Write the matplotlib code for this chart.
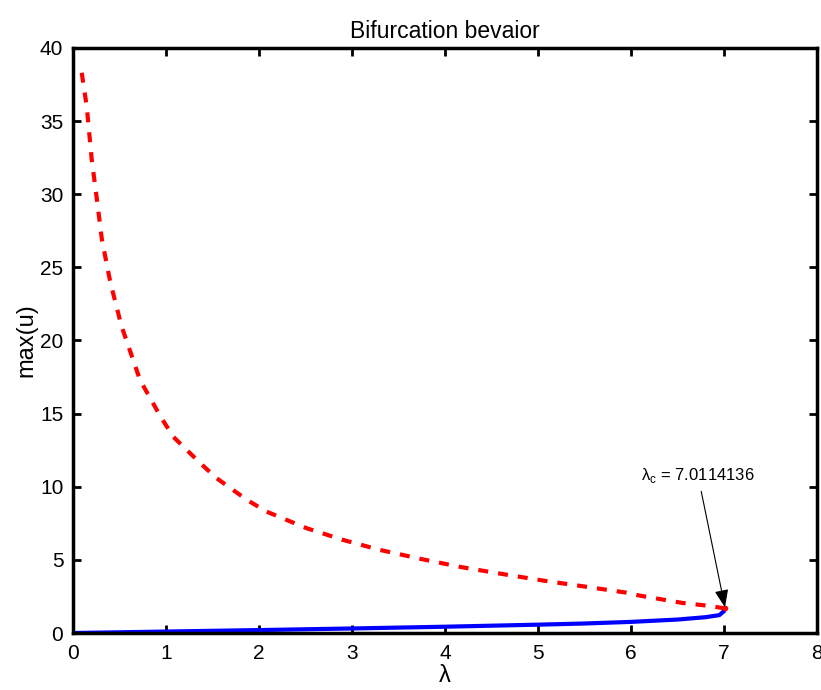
import numpy as np
import matplotlib
matplotlib.use("Agg")
import matplotlib.pyplot as plt

plt.rcParams['font.family'] = ['Liberation Sans', 'DejaVu Sans']

# upper branch (unstable)
lam_upper = [0.093, 0.147, 0.2, 0.255, 0.31, 0.4, 0.52, 0.72, 0.94, 1.08, 1.37, 1.54,
             1.87, 2.08, 2.51, 2.9, 3.3, 3.75, 4.18, 4.63, 5.06, 5.51, 5.95, 6.1,
             6.56, 6.85, 7.0114]
u_upper = [38.3, 36.0, 32.4, 29.7, 26.9, 24.0, 21.0, 17.3, 14.8, 13.4, 11.6, 10.6,
           9.1, 8.3, 7.17, 6.37, 5.68, 5.05, 4.5, 4.02, 3.58, 3.17, 2.76, 2.55,
           2.05, 1.85, 1.68]

# lower branch (stable)
lam_lower = [0.0, 0.5, 1.0, 2.0, 3.0, 4.0, 5.0, 5.5, 6.0, 6.5, 6.8, 6.95, 7.0114]
u_lower = [0.0, 0.05, 0.1, 0.2, 0.31, 0.43, 0.57, 0.65, 0.76, 0.92, 1.08, 1.22, 1.55]

lam_c = 7.0114136

fig = plt.figure(figsize=(8.21, 6.9), dpi=100)
ax = fig.add_axes([0.089, 0.0826, 0.906, 0.848])

ax.plot(lam_lower, u_lower, color='#0000ff', lw=3, solid_capstyle='butt')
ax.plot(lam_upper, u_upper, color='#ff0000', lw=3, dashes=(2.4, 2.4))
ax.plot([lam_c], [1.68], 'o', color='#ff0000', ms=3)

ax.annotate(r'λ$_\mathregular{c}$ = 7.0114136', xy=(lam_c, 1.75), xytext=(6.72, 10.8),
            ha='center', va='center', fontsize=12,
            arrowprops=dict(arrowstyle='-|>,head_length=0.9,head_width=0.35',
                            color='k', lw=0.8, shrinkA=3, shrinkB=0))

ax.set_xlim(0, 8)
ax.set_ylim(0, 40)
ax.set_xticks(range(0, 9))
ax.set_yticks(range(0, 41, 5))
ax.tick_params(direction='in', length=6, width=2, top=True, right=True,
               labelsize=15)
ax.tick_params(axis='x', pad=8)
ax.tick_params(axis='y', pad=7)
for s in ax.spines.values():
    s.set_linewidth(2.5)

ax.set_xlabel('λ', fontsize=17, labelpad=1)
ax.set_ylabel('max(u)', fontsize=17, labelpad=2)
ax.set_title('Bifurcation bevaior', fontsize=16.5, pad=7)

fig.savefig('out.png', dpi=100)
